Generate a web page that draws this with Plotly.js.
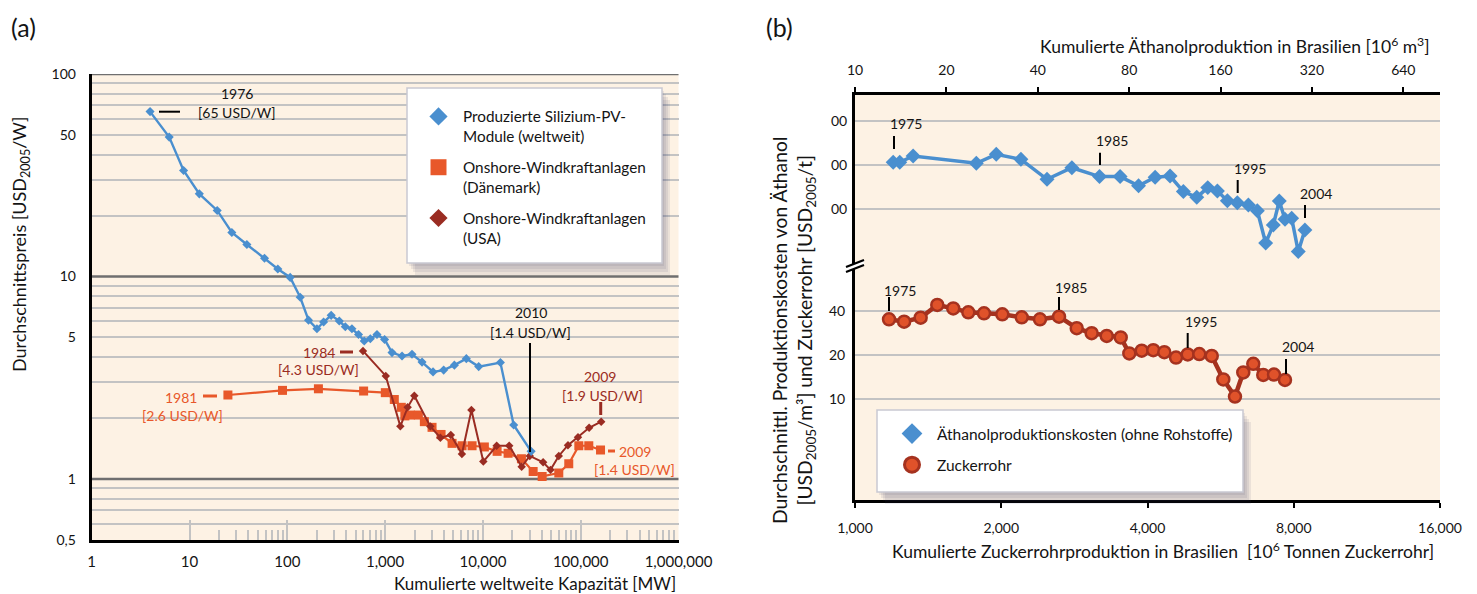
<!DOCTYPE html>
<html><head><meta charset="utf-8">
<script src="https://cdn.plot.ly/plotly-3.0.1.min.js"></script>
<style>html,body{margin:0;padding:0;background:#fff}#chart{width:1477px;height:594px}</style>
</head><body><div id="chart"></div>
<script>
// ---------- (a) data ----------
const pvCap = [3.95, 6.2, 8.7, 12.6, 19.2, 27.1, 38.6, 58.5, 80, 107, 135.5, 164.8, 201, 235, 281, 340, 392, 458, 535, 612, 706, 826, 988, 1177, 1490, 1885, 2386, 3093, 3971, 5110, 6770, 9060, 15100, 20650, 31130];
const pvPrice = [65.2, 48.8, 33.4, 25.6, 21.2, 16.5, 14.4, 12.3, 10.9, 9.9, 7.9, 6.09, 5.52, 5.96, 6.43, 6.03, 5.65, 5.52, 5.17, 4.80, 4.93, 5.17, 4.89, 4.21, 4.05, 4.13, 3.78, 3.38, 3.45, 3.65, 3.93, 3.59, 3.76, 1.85, 1.37];
const dkCap = [24.7, 89.3, 208, 603, 1005, 1242, 1465, 1592, 1811, 2188, 2520, 3020, 3735, 4840, 6125, 7750, 10350, 13970, 18100, 24770, 32650, 40350, 59700, 75500, 95700, 121000, 159500];
const dkPrice = [2.60, 2.74, 2.79, 2.72, 2.67, 2.47, 2.26, 2.05, 2.07, 2.07, 1.92, 1.80, 1.66, 1.50, 1.46, 1.46, 1.44, 1.37, 1.34, 1.26, 1.09, 1.03, 1.07, 1.19, 1.46, 1.46, 1.39];
const usCap = [594, 1016, 1432, 1700, 1990, 2900, 3675, 4700, 6100, 7630, 10100, 13830, 18580, 24900, 30150, 41300, 49100, 59700, 74100, 93800, 121900, 162000];
const usPrice = [4.29, 3.23, 1.82, 2.26, 2.58, 1.82, 1.60, 1.65, 1.33, 2.19, 1.22, 1.46, 1.46, 1.15, 1.30, 1.21, 1.11, 1.30, 1.47, 1.61, 1.79, 1.92];
const capTicks = [1, 10, 100, 1000, 10000, 100000, 1000000];
const capLabels = ["1", "10", "100", "1,000", "10,000", "100,000", "1,000,000"];
const priceTicks = [0.5, 1, 5, 10, 50, 100];
const priceLabels = ["0,5", "1", "5", "10", "50", "100"];
const priceGrid = [0.6, 0.7, 0.8, 0.9, 2, 3, 4, 5, 6, 7, 8, 9, 20, 30, 40, 50, 60, 70, 80, 90];
const priceDecades = [1, 10, 100];

// ---------- (b) data ----------
const ethProd = [13.36, 14.04, 15.54, 25.1, 29.2, 35.2, 42.9, 51.8, 63.9, 74.7, 85.9, 97.4, 109.1, 120.7, 133.6, 145.2, 156.2, 168.5, 181.7, 197.6, 211.5, 225.3, 238.7, 249.8, 260.9, 274.4, 288.5, 303.4];
const ethCost = [208.6, 208.6, 230.3, 205.4, 236.4, 218.6, 159.9, 191.7, 166.8, 166.8, 144.4, 165.3, 168.2, 131.9, 120.6, 140.4, 133.3, 114.4, 110.8, 107, 97.8, 58.9, 78.3, 113.9, 85.5, 86.9, 51.6, 72.3];
const caneProd = [1175, 1262, 1365, 1477, 1593, 1711, 1843, 2010, 2204, 2403, 2630, 2860, 3070, 3297, 3523, 3670, 3892, 4111, 4332, 4579, 4840, 5113, 5423, 5729, 6055, 6298, 6604, 6924, 7285, 7674];
const caneCost = [35.1, 33.8, 36.0, 44.0, 41.7, 39.2, 38.6, 38.0, 36.2, 35.1, 36.6, 30.5, 28.2, 27.0, 26.4, 20.5, 21.4, 21.6, 20.9, 19.2, 20.2, 20.3, 19.7, 13.6, 10.4, 15.2, 17.4, 14.6, 14.7, 13.5];
const ethTicks = [10, 20, 40, 80, 160, 320, 640];
const caneTicks = [1000, 2000, 4000, 8000, 16000];
const caneLabels = ["1,000", "2,000", "4,000", "8,000", "16,000"];
const ethCostTicks = [100, 200, 400];
const ethCostLabels = ["00", "00", "00"];
const caneCostTicks = [10, 20, 40];

// ---------- styling ----------
const W = 1477, H = 594;
const px = x => x / W, py = y => 1 - y / H;
const BLUE = '#4a8fcf', ORANGE = '#e8582a', DKRED = '#9a2c22', CANEF = '#e0522a', CANEL = '#a5321f';
const GRID = '#c3c3c3', DARKGRID = '#6f6f6f', BG = '#fdf2e4', TXT = '#141414';

const minorCap = [];
for (let e = 1; e <= 5; e++) for (let m = 2; m <= 9; m++) minorCap.push(m * Math.pow(10, e));

const traces = [
  {x: dkCap, y: dkPrice, xaxis: 'x', yaxis: 'y', mode: 'lines+markers', showlegend: false,
   line: {color: ORANGE, width: 2.2}, marker: {symbol: 'square', size: 9, color: ORANGE}},
  {x: usCap, y: usPrice, xaxis: 'x', yaxis: 'y', mode: 'lines+markers', showlegend: false,
   line: {color: DKRED, width: 2}, marker: {symbol: 'diamond', size: 6.5, color: DKRED}},
  {x: pvCap, y: pvPrice, xaxis: 'x', yaxis: 'y', mode: 'lines+markers', showlegend: false,
   line: {color: BLUE, width: 2.4}, marker: {symbol: 'diamond', size: 7, color: BLUE}},
  {x: ethProd, y: ethCost, xaxis: 'x3', yaxis: 'y2', mode: 'lines+markers', showlegend: false,
   line: {color: BLUE, width: 3.5}, marker: {symbol: 'diamond', size: 11.5, color: BLUE}},
  {x: caneProd, y: caneCost, xaxis: 'x2', yaxis: 'y3', mode: 'lines+markers', showlegend: false,
   line: {color: CANEL, width: 4.5}, marker: {symbol: 'circle', size: 12, color: CANEF, line: {color: CANEL, width: 2.5}}},
  // legend entries
  {x: [null], y: [null], xaxis: 'x', yaxis: 'y', mode: 'markers', name: 'Produzierte Silizium-PV-<br>Module (weltweit)',
   legend: 'legend', legendgroup: 'a1', marker: {symbol: 'diamond', size: 14, color: BLUE}},
  {x: [null], y: [null], xaxis: 'x', yaxis: 'y', mode: 'markers', name: 'Onshore-Windkraftanlagen<br>(Dänemark)',
   legend: 'legend', legendgroup: 'a2', marker: {symbol: 'square', size: 16, color: ORANGE}},
  {x: [null], y: [null], xaxis: 'x', yaxis: 'y', mode: 'markers', name: 'Onshore-Windkraftanlagen<br>(USA)',
   legend: 'legend', legendgroup: 'a3', marker: {symbol: 'diamond', size: 14, color: DKRED}},
  {x: [null], y: [null], xaxis: 'x2', yaxis: 'y3', mode: 'markers', name: 'Äthanolproduktionskosten (ohne Rohstoffe)',
   legend: 'legend2', legendgroup: 'b1', marker: {symbol: 'diamond', size: 16, color: BLUE}},
  {x: [null], y: [null], xaxis: 'x2', yaxis: 'y3', mode: 'markers', name: 'Zuckerrohr',
   legend: 'legend2', legendgroup: 'b2', marker: {symbol: 'circle', size: 15, color: CANEF, line: {color: CANEL, width: 3}}}
];

const annotations = [];
function ann(text, x, y, o) {
  o = o || {};
  annotations.push({text: text, x: px(x), y: py(y), xref: 'paper', yref: 'paper', showarrow: false,
    xanchor: o.xanchor || 'center', yanchor: 'middle', textangle: o.angle || 0,
    font: {size: o.size || 14, color: o.color || TXT}});
}
const shapes = [];
function seg(x0, y0, x1, y1, color, width) {
  shapes.push({type: 'line', xref: 'paper', yref: 'paper', x0: px(x0), y0: py(y0), x1: px(x1), y1: py(y1),
    line: {color: color, width: width}, layer: 'above'});
}
function box(x0, y0, x1, y1) {
  const offs = [[2, 3], [4, 6], [6, 9], [8, 12]];
  offs.forEach(o => shapes.push({type: 'rect', xref: 'paper', yref: 'paper', x0: px(x0 + o[0]), y0: py(y1 + o[1]),
    x1: px(x1 + o[0]), y1: py(y0 + o[1]), fillcolor: 'rgba(60,50,95,0.09)', line: {width: 0}, layer: 'above'}));
  shapes.push({type: 'rect', xref: 'paper', yref: 'paper', x0: px(x0), y0: py(y1), x1: px(x1), y1: py(y0),
    fillcolor: '#ffffff', line: {color: '#c9c9d2', width: 1.5}, layer: 'above'});
}

// dark decade lines in (a)
priceDecades.forEach(v => shapes.push({type: 'line', xref: 'paper', yref: 'y', x0: px(91.7), x1: px(678.5), y0: v, y1: v,
  line: {color: DARKGRID, width: 2.5}, layer: 'below'}));

// (a) annotations
ann('(a)', 23, 27, {size: 25});
ann('1976', 237, 93);
ann('[65 USD/W]', 237, 113);
seg(159, 111.7, 180, 111.7, '#000', 2);
ann('1984', 319, 352, {color: DKRED});
seg(340, 352, 353, 352, DKRED, 3);
ann('[4.3 USD/W]', 318, 369, {color: DKRED});
ann('1981', 181, 397, {color: ORANGE});
seg(203, 396, 217, 396, ORANGE, 3);
ann('[2.6 USD/W]', 182, 415, {color: ORANGE});
ann('2010', 530.5, 312);
ann('[1.4 USD/W]', 530, 332);
seg(530, 343, 530, 452, '#000', 2);
ann('2009', 600, 376, {color: DKRED});
ann('[1.9 USD/W]', 602, 395, {color: DKRED});
seg(600.7, 402, 600.7, 415, DKRED, 3);
ann('2009', 635, 451, {color: ORANGE});
seg(608, 451, 615, 451, ORANGE, 3);
ann('[1.4 USD/W]', 634, 470, {color: ORANGE});
ann('Kumulierte weltweite Kapazität [MW]', 535, 583, {size: 17});
ann('Durchschnittspreis [USD<sub>2005</sub>/W]', 20, 244, {size: 18, angle: -90});

// (b) annotations
ann('(b)', 779, 27, {size: 25});
ann('Kumulierte Äthanolproduktion in Brasilien [10<sup>6</sup> m<sup>3</sup>]', 1235, 45, {size: 17.5});
ann('Kumulierte Zuckerrohrproduktion in Brasilien  [10<sup>6</sup> Tonnen Zuckerrohr]', 1163, 550, {size: 17.5});
ann('Durchschnittl. Produktionskosten von Äthanol<br>[USD<sub>2005</sub>/m³] und Zuckerrohr [USD<sub>2005</sub>/t]', 793, 331, {size: 19.3, angle: -90});
ann('1975', 906, 123.3); seg(894, 136, 894, 149, '#000', 2);
ann('1985', 1112, 140); seg(1100, 152.7, 1100, 165, '#000', 2);
ann('1995', 1250, 168); seg(1237.7, 180, 1237.7, 193, '#000', 2);
ann('2004', 1316, 193); seg(1305, 205, 1305, 218, '#000', 2);
ann('1975', 900, 291); seg(889, 297, 889, 311, '#000', 2);
ann('1985', 1071, 287); seg(1059, 297, 1059, 310, '#000', 2);
ann('1995', 1201, 321); seg(1187.7, 333, 1187.7, 348, '#000', 2);
ann('2004', 1297.5, 346.7); seg(1286, 359, 1286, 374, '#000', 2);

// legend boxes
box(407, 88, 662, 263);
box(877, 410, 1243, 492);

// axis break marks in (b)
shapes.push({type: 'path', xref: 'paper', yref: 'paper', layer: 'above',
  path: 'M' + px(846) + ',' + py(267) + ' L' + px(864) + ',' + py(260) + ' L' + px(864) + ',' + py(265) + ' L' + px(846) + ',' + py(272) + ' Z',
  fillcolor: '#ffffff', line: {width: 0}});
seg(846, 267, 864, 260, '#000', 2.2);
seg(846, 272, 864, 265, '#000', 2.2);

const axisBase = {showline: true, linecolor: '#000', linewidth: 3, zeroline: false, type: 'log', fixedrange: true};

const layout = {
  width: W, height: H, margin: {l: 0, r: 0, t: 0, b: 0},
  paper_bgcolor: '#ffffff', plot_bgcolor: BG,
  font: {family: 'Lato, sans-serif', size: 14, color: TXT},
  xaxis: Object.assign({}, axisBase, {domain: [px(91.7), px(678.5)], range: [0, 6], anchor: 'y',
    tickmode: 'array', tickvals: capTicks, ticktext: capLabels, ticks: 'inside', ticklen: 20, tickwidth: 2,
    tickcolor: GRID, showgrid: false, ticklabelstandoff: 6, tickfont: {size: 15},
    minor: {tickmode: 'array', tickvals: minorCap, ticks: 'inside', ticklen: 10, tickwidth: 2, tickcolor: GRID, showgrid: false}}),
  yaxis: Object.assign({}, axisBase, {domain: [py(540), py(74)], range: [Math.log10(0.5), 2], anchor: 'x',
    tickmode: 'array', tickvals: priceTicks, ticktext: priceLabels, ticks: '', showgrid: false,
    ticklabelstandoff: 10, tickfont: {size: 14},
    minor: {tickmode: 'array', tickvals: priceGrid, ticks: '', showgrid: true, gridcolor: GRID, gridwidth: 2}}),
  xaxis2: Object.assign({}, axisBase, {domain: [px(855), px(1440)], range: [3, Math.log10(16000)], anchor: 'y3',
    tickmode: 'array', tickvals: caneTicks, ticktext: caneLabels, ticks: 'outside', ticklen: 5, tickwidth: 2,
    tickcolor: '#000', showgrid: false, tickfont: {size: 14}, ticklabelstandoff: 8}),
  xaxis3: Object.assign({}, axisBase, {domain: [px(855), px(1440)], range: [1, 2.927], anchor: 'y2', side: 'top',
    tickmode: 'array', tickvals: ethTicks, ticks: 'outside', ticklen: 5, tickwidth: 2,
    tickcolor: '#000', showgrid: false, tickfont: {size: 14}, ticklabelstandoff: 6}),
  yaxis2: Object.assign({}, axisBase, {domain: [py(265), py(95)], range: [1.6214, 2.7768], anchor: 'x3',
    tickmode: 'array', tickvals: ethCostTicks, ticktext: ethCostLabels, ticks: '', showgrid: true, gridcolor: GRID, gridwidth: 2,
    tickfont: {size: 14}, ticklabelstandoff: 2}),
  yaxis3: Object.assign({}, axisBase, {domain: [py(500), py(265)], range: [0.3088, 1.917], anchor: 'x2',
    tickmode: 'array', tickvals: caneCostTicks, ticks: '', showgrid: true, gridcolor: GRID, gridwidth: 2,
    tickfont: {size: 14}, ticklabelstandoff: 4}),
  legend: {x: px(414), y: py(100), xanchor: 'left', yanchor: 'top', bgcolor: 'rgba(0,0,0,0)', borderwidth: 0,
    font: {size: 15.3}, valign: 'top', tracegroupgap: 8, itemwidth: 39, itemclick: false, itemdoubleclick: false},
  legend2: {x: px(887), y: py(417), xanchor: 'left', yanchor: 'top', bgcolor: 'rgba(0,0,0,0)', borderwidth: 0,
    font: {size: 15.5}, tracegroupgap: 8, itemwidth: 40, itemclick: false, itemdoubleclick: false},
  annotations: annotations, shapes: shapes
};

Plotly.newPlot('chart', traces, layout, {displayModeBar: false, staticPlot: true});
</script></body></html>
